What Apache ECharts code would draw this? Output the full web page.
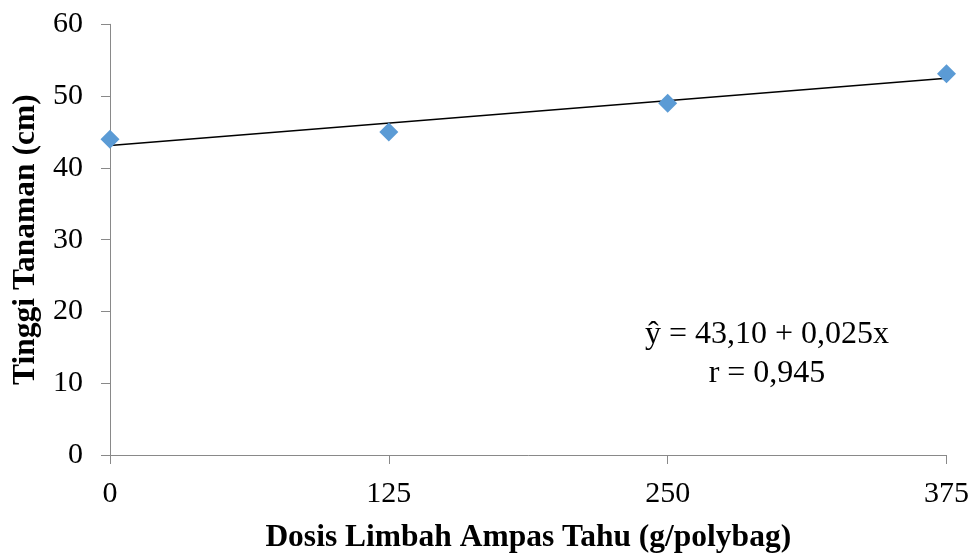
<!DOCTYPE html>
<html>
<head>
<meta charset="utf-8">
<script src="https://cdn.jsdelivr.net/npm/echarts@6/dist/echarts.min.js"></script>
<style>html,body{margin:0;padding:0;background:#fff}#c{width:975px;height:554px}</style>
</head>
<body>
<div id="c"></div>
<script>
const doses = [0, 125, 250, 375];
const heights = [44.0, 45.0, 49.0, 53.1];
const trendX = [0, 375];
const trendY = [43.10, 52.475];
const xTicks = [0, 125, 250, 375];
const equationLines = ['ŷ = 43,10 + 0,025x', 'r = 0,945'];

const chart = echarts.init(document.getElementById('c'));
const font = '"Liberation Serif", "Times New Roman", serif';
chart.setOption({
  animation: false,
  grid: {left: 110, right: 28.5, top: 24.3, bottom: 99, containLabel: false, outerBoundsMode: 'none'},
  xAxis: {
    type: 'value', min: xTicks[0], max: xTicks[xTicks.length - 1], interval: 125,
    name: 'Dosis Limbah Ampas Tahu (g/polybag)', nameLocation: 'middle', nameGap: 67,
    nameTextStyle: {fontFamily: font, fontSize: 31.5, fontWeight: 'bold', color: '#000'},
    axisLine: {lineStyle: {color: '#898989', width: 1}},
    axisTick: {show: true, length: 9, lineStyle: {color: '#898989'}},
    axisLabel: {fontFamily: font, fontSize: 30, color: '#000', margin: 24},
    splitLine: {show: false}
  },
  yAxis: {
    type: 'value', min: 0, max: 60, interval: 10,
    name: 'Tinggi Tanaman (cm)', nameLocation: 'middle', nameGap: 66,
    nameTextStyle: {fontFamily: font, fontSize: 31.5, fontWeight: 'bold', color: '#000'},
    axisLine: {show: true, lineStyle: {color: '#898989', width: 1}},
    axisTick: {show: true, length: 9, lineStyle: {color: '#898989'}},
    axisLabel: {fontFamily: font, fontSize: 30, color: '#000', margin: 27},
    splitLine: {show: false}
  },
  graphic: [{
    type: 'text', x: 767, y: 315,
    style: {text: equationLines.join('\n'), fontFamily: font, fontSize: 32, fill: '#000', align: 'center', lineHeight: 39},
  }],
  series: [
    {
      type: 'line', data: trendX.map((x, i) => [x, trendY[i]]), symbol: 'none',
      lineStyle: {color: '#000', width: 1.5}, z: 2
    },
    {
      type: 'scatter', data: doses.map((x, i) => [x, heights[i]]), symbol: 'diamond',
      symbolSize: [19, 19], itemStyle: {color: '#5B9BD5', opacity: 1}, z: 3
    }
  ]
});
</script>
</body>
</html>
